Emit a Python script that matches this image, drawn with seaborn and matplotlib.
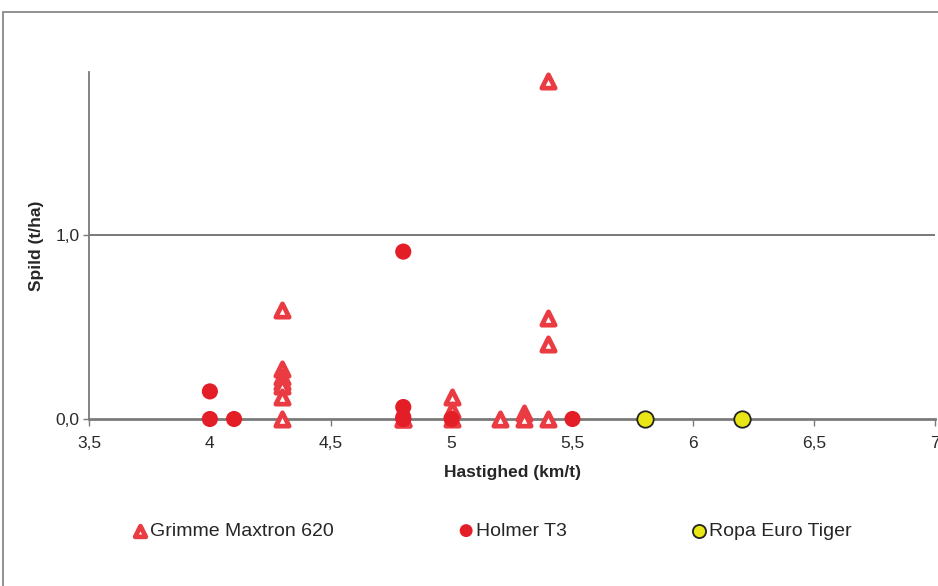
import numpy as np
import pandas as pd
import matplotlib
matplotlib.use("Agg")
import matplotlib.pyplot as plt
import seaborn as sns
from matplotlib.patches import Rectangle
from matplotlib.ticker import FuncFormatter

# values
grimme_x = [4.3, 4.3, 4.3, 4.3, 4.3, 4.3, 4.3, 4.8, 4.8, 5.0, 5.0, 5.0, 5.2, 5.3, 5.3, 5.4, 5.4, 5.4, 5.4]
grimme_y = [0.59, 0.27, 0.23, 0.20, 0.18, 0.12, 0.0, 0.0, 0.0, 0.12, 0.05, 0.0, 0.0, 0.03, 0.0, 1.84, 0.55, 0.41, 0.0]
holmer_x = [4.0, 4.0, 4.1, 4.8, 4.8, 4.8, 4.8, 5.0, 5.5]
holmer_y = [0.15, 0.0, 0.0, 0.91, 0.065, 0.01, 0.0, 0.0, 0.0]
ropa_x = [5.8, 6.2]
ropa_y = [0.0, 0.0]
series_names = ["Grimme Maxtron 620", "Holmer T3", "Ropa Euro Tiger"]

sns.set_style("white")
plt.rcParams["font.family"] = ["Liberation Sans", "DejaVu Sans"]

fig = plt.figure(figsize=(9.38, 5.86), dpi=100)
ax = fig.add_axes([0.0949, 0.285, 0.902, 0.592])

fig.patches.append(Rectangle((0.003, -0.05), 1.1, 1.029, transform=fig.transFigure,
                             fill=False, edgecolor="#7f7f7f", linewidth=1.2))

ax.axhline(1.0, color="#6e6e6e", linewidth=1.3, zorder=1)

sns.scatterplot(x=grimme_x, y=grimme_y, ax=ax, marker="^", s=92, facecolor="white",
                edgecolor="#ea3a42", linewidth=3.4, label=series_names[0], clip_on=False, zorder=3)
sns.scatterplot(x=holmer_x, y=holmer_y, ax=ax, marker="o", s=135, color="#e41e26",
                edgecolor="none", label=series_names[1], clip_on=False, zorder=4)
sns.scatterplot(x=ropa_x, y=ropa_y, ax=ax, marker="o", s=140, color="#e8e614",
                edgecolor="#222222", linewidth=1.3, label=series_names[2], clip_on=False, zorder=4)
ax.collections[0].set_joinstyle("round")

ax.set_xlim(3.5, 7)
ax.set_ylim(0, 1.886)
ax.set_xticks(np.arange(3.5, 7.01, 0.5))
ax.set_yticks([0.0, 1.0])
ax.xaxis.set_major_formatter(FuncFormatter(lambda v, p: f"{v:g}".replace(".", ",")))
ax.yaxis.set_major_formatter(FuncFormatter(lambda v, p: f"{v:.1f}".replace(".", ",")))

for s in ["top", "right"]:
    ax.spines[s].set_visible(False)
ax.spines["bottom"].set_position(("data", 0))
ax.spines["bottom"].set_color("#7a7a7a")
ax.spines["bottom"].set_linewidth(2)
ax.spines["left"].set_color("#7a7a7a")
ax.spines["left"].set_linewidth(1.3)

ax.tick_params(axis="x", direction="out", length=5, width=1, color="#7a7a7a",
               labelsize=12.5, labelcolor="#2a2a2a", pad=7, bottom=True)
ax.tick_params(axis="y", length=4, width=1, color="#7a7a7a", left=True,
               labelsize=12.5, labelcolor="#2a2a2a", pad=3)

ax.set_xlabel("Hastighed (km/t)", fontsize=12.5, fontweight="bold", labelpad=10)
ax.set_ylabel("Spild (t/ha)", fontsize=12.5, fontweight="bold", labelpad=8)

handles, labels = ax.get_legend_handles_labels()
order = [labels.index(n) for n in series_names]
ax.legend_.remove()
fig.legend([handles[i] for i in order], [labels[i] for i in order], loc="center",
           bbox_to_anchor=(0.5245, 0.094), ncol=3, frameon=False, fontsize=14,
           columnspacing=6.4, handlelength=0.8, handletextpad=0.1, markerscale=0.8)

fig.savefig("out.png", dpi=100)
